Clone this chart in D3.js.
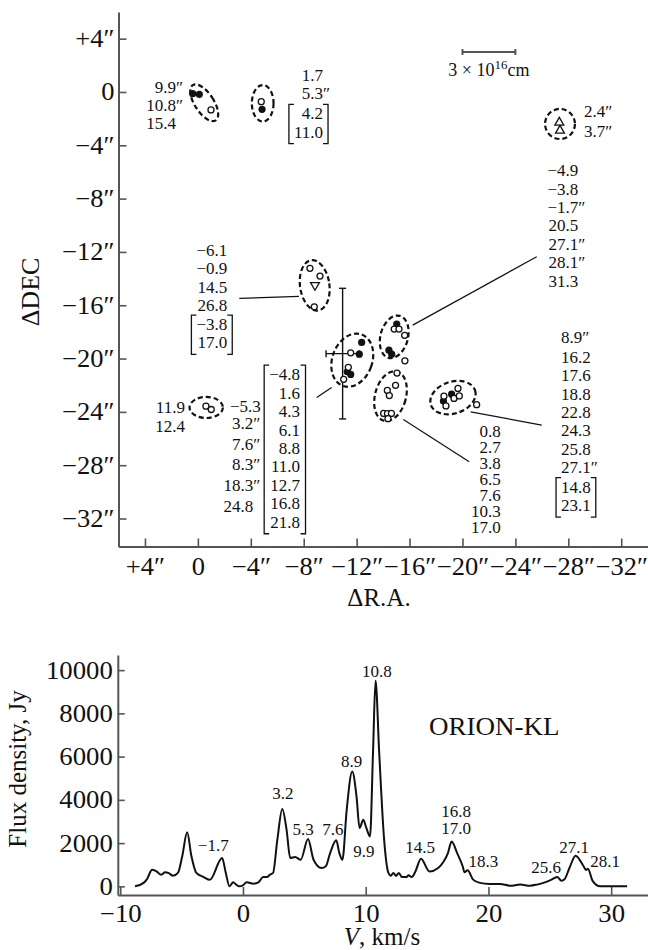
<!DOCTYPE html>
<html>
<head>
<meta charset="utf-8">
<script src="https://cdn.jsdelivr.net/npm/d3@7"></script>
<style>
  body { margin: 0; background: #fff; }
  svg { display: block; }
  text { font-family: "Liberation Serif", "Times New Roman", serif; fill: #111; }
</style>
</head>
<body>
<svg id="chart" width="648" height="950"></svg>
<script>
// ===================== Map of maser spots (offsets in arcsec) =====================
const raTicks  = [4, 0, -4, -8, -12, -16, -20, -24, -28, -32];
const decTicks = [4, 0, -4, -8, -12, -16, -20, -24, -28, -32];

// [ΔR.A., ΔDEC]
const filledSpots = [
  [0.39, -0.13], [-0.11, -0.18],
  [-4.85, -1.30],
  [-12.38, -18.79], [-12.20, -19.67], [-11.29, -20.99], [-11.55, -21.19],
  [-15.03, -17.41], [-14.44, -19.37], [-14.65, -19.67],
  [-18.56, -23.19], [-19.18, -22.67]
];
const openSpots = [
  [-0.99, -1.35],
  [-4.79, -0.73],
  [-8.47, -13.23], [-9.23, -13.81], [-8.80, -16.12],
  [-11.55, -19.57], [-11.37, -20.66], [-11.02, -21.56],
  [-14.84, -17.79], [-15.20, -17.79], [-15.63, -18.26], [-15.65, -20.17],
  [-15.05, -21.09], [-14.94, -22.01], [-14.32, -22.39], [-14.47, -22.78],
  [-14.04, -24.12], [-14.33, -24.13], [-14.63, -24.12], [-14.37, -24.51],
  [-18.60, -22.82], [-18.75, -23.55], [-19.36, -22.99], [-19.76, -22.80],
  [-19.66, -22.24], [-21.07, -23.46],
  [-0.61, -23.57], [-1.01, -23.82]
];
const upTriangles   = [[-27.32, -2.29], [-27.37, -2.89]];
const downTriangles = [[-8.85, -14.49]];

// groups: [ΔR.A., ΔDEC, semi-axis along R.A., semi-axis along DEC, tilt deg]
const groupOutlines = [
  [-0.48, -0.81, 0.72, 1.58, -33],
  [-4.90, -0.85, 0.82, 1.37, 0],
  [-27.37, -2.40, 1.13, 1.13, 0],
  [-8.83, -14.51, 1.11, 1.90, -8],
  [-11.67, -20.12, 1.51, 2.05, 20],
  [-14.84, -18.37, 1.04, 1.63, 15],
  [-14.56, -22.82, 1.17, 1.91, 15],
  [-19.28, -22.93, 1.76, 1.19, -18],
  [-0.63, -23.67, 1.26, 0.79, 0]
];

// position uncertainty cross: [ΔR.A., ΔDEC, ±R.A., ±DEC]
const errorCross = [-10.94, -19.63, 1.25, 4.9];

// linear scale bar: R.A. from, R.A. to, DEC
const scaleBar = [-20, -24, 3.0];

// velocity lists of the spot groups (km/s)
const velA  = ["9.9″", "10.8″", "15.4"];
const velB1 = ["1.7", "5.3″"];
const velB2 = ["4.2", "11.0"];
const velC  = ["2.4″", "3.7″"];
const velD  = ["−4.9", "−3.8", "−1.7″", "20.5", "27.1″", "28.1″", "31.3"];
const velF1 = ["−6.1", "−0.9", "14.5", "26.8"];
const velF2 = ["−3.8", "17.0"];
const velG  = ["11.9", "12.4"];
const velG1 = ["−5.3"];
const velG2 = ["3.2″", "7.6″", "8.3″", "18.3″", "24.8"];
const velH  = ["−4.8", "1.6", "4.3", "6.1", "8.8", "11.0", "12.7", "16.8", "21.8"];
const velI  = ["0.8", "2.7", "3.8", "6.5", "7.6", "10.3", "17.0"];
const velJ1 = ["8.9″"];
const velJ2 = ["16.2", "17.6", "18.8", "22.8", "24.3", "25.8", "27.1″"];
const velJ3 = ["14.8", "23.1"];

// ===================== Spectrum =====================
const specV = [-8.8, -8.1, -7.85, -7.4, -7.05, -6.65, -6.35, -6.05, -5.7, -5.3, -4.95, -4.55, -4.2, -3.8,
  -3.2, -2.7, -1.7, -1.4, -1.1, -0.8, -0.55, -0.3, -0.05, 0.3, 0.85, 1.25, 1.65, 1.95, 2.2, 2.45,
  2.8, 3.2, 3.55, 3.85, 4.25, 4.7, 5.3, 5.75, 6.4, 6.75, 7.1, 7.6, 7.85, 8.1, 8.45, 8.9, 9.25, 9.5,
  9.8, 10.05, 10.35, 10.6, 10.8, 11.1, 11.5, 11.85, 12.05, 12.25, 12.47, 12.7, 12.95, 13.3, 13.5,
  13.75, 14.05, 14.5, 15.2, 15.9, 16.35, 16.7, 17.0, 17.45, 17.9, 18.05, 18.3, 18.75, 19.3, 20.1,
  20.95, 21.75, 22.6, 23.4, 23.95, 24.6, 25.1, 25.6, 25.95, 26.2, 26.6, 27.1, 27.75, 27.95, 28.1,
  28.5, 29.1, 29.9, 31.3];
const specF = [0, 160, 310, 770, 690, 540, 650, 610, 490, 620, 1390, 2500, 1390, 620,
  430, 300, 1310, 620, 0, 185, 80, 0, 30, 185, 125, 185, 430, 430, 540, 620,
  2160, 3580, 2620, 1310, 1360, 1230, 2190, 1230, 850, 930, 1540, 2130, 1540, 1230, 3540, 5310, 4160, 2700,
  3080, 2700, 2310, 6300, 9520, 6160, 2160, 620, 490, 620, 490, 620, 430, 430, 510,
  430, 690, 1280, 690, 850, 1150, 1540, 2080, 1540, 930, 650, 740, 310, 160, 110,
  110, 30, 80, 30, 80, 185, 300, 434, 260, 330, 850, 1420, 930, 760, 810,
  240, 0, 0, 0];
const vTicks    = [-10, 0, 10, 20, 30];
const fluxTicks = [0, 2000, 4000, 6000, 8000, 10000];
const peakLabels = ["−1.7", "3.2", "5.3", "7.6", "8.9", "10.8", "9.9", "14.5", "16.8", "17.0", "18.3", "25.6", "27.1", "28.1"];

// ===================== Layout =====================
const svg = d3.select("#chart");
const INK = "#111", AXIS = "#555";

const xMap = d3.scaleLinear().domain([6, -34]).range([118.5, 647.7]);
const yMap = d3.scaleLinear().domain([6, -34.1]).range([12, 546.5]);

const arcFmt = d => d === 0 ? "0" : (d > 0 ? "+" + d : "−" + Math.abs(d)) + "″";

// stretch text horizontally to the wider face used in the figure
function widen(sel, k) {
  sel.each(function () {
    const L = this.getComputedTextLength();
    d3.select(this).attr("textLength", L * k).attr("lengthAdjust", "spacingAndGlyphs");
  });
}

function styleAxis(g, size, k) {
  g.attr("font-family", null).attr("font-size", null);
  g.select(".domain").attr("stroke", AXIS).attr("stroke-width", 2);
  g.selectAll(".tick line").attr("stroke", AXIS).attr("stroke-width", 1.6);
  const t = g.selectAll(".tick text").attr("fill", INK).style("font-size", size + "px");
  widen(t, k);
}

// axes of the map
svg.append("g").attr("transform", `translate(${xMap(6)},0)`)
  .call(d3.axisLeft(yMap).tickValues(decTicks).tickFormat(arcFmt).tickSize(-8).tickSizeOuter(0).tickPadding(4))
  .call(g => styleAxis(g, 25, 1.06));
svg.append("g").attr("transform", `translate(0,${yMap(-34.1)})`)
  .call(d3.axisBottom(xMap).tickValues(raTicks).tickFormat(arcFmt).tickSize(-8).tickSizeOuter(0).tickPadding(11))
  .call(g => styleAxis(g, 25, 1.06));

svg.append("text").attr("transform", "translate(39,292) rotate(-90)")
  .attr("text-anchor", "middle").style("font-size", "26px").text("ΔDEC");
svg.append("text").attr("x", 379).attr("y", 606)
  .attr("text-anchor", "middle").style("font-size", "25px").text("ΔR.A.");

const map = svg.append("g");
const kx = Math.abs(xMap(1) - xMap(0)), ky = Math.abs(yMap(1) - yMap(0));

// dashed outlines of spot groups
map.selectAll("ellipse.grp").data(groupOutlines).join("ellipse")
  .attr("class", "grp")
  .attr("transform", d => `translate(${xMap(d[0])},${yMap(d[1])}) rotate(${d[4]})`)
  .attr("rx", d => d[2] * kx).attr("ry", d => d[3] * ky)
  .attr("fill", "none").attr("stroke", INK).attr("stroke-width", 2.2)
  .attr("stroke-dasharray", "5,3");

// uncertainty cross
{
  const [ra, de, er, ed] = errorCross;
  const cx = xMap(ra), cy = yMap(de);
  const x1 = xMap(ra + er), x2 = xMap(ra - er), y1 = yMap(de + ed), y2 = yMap(de - ed);
  const segs = [[cx, y1, cx, y2], [x1, cy, x2, cy], [cx - 3.5, y1, cx + 3.5, y1], [cx - 3.5, y2, cx + 3.5, y2],
                [x1, cy - 3.5, x1, cy + 3.5], [x2, cy - 3.5, x2, cy + 3.5]];
  map.selectAll("line.err").data(segs).join("line").attr("class", "err")
    .attr("x1", d => d[0]).attr("y1", d => d[1]).attr("x2", d => d[2]).attr("y2", d => d[3])
    .attr("stroke", INK).attr("stroke-width", 1.4);
}

// spots
map.selectAll("circle.fill").data(filledSpots).join("circle").attr("class", "fill")
  .attr("cx", d => xMap(d[0])).attr("cy", d => yMap(d[1])).attr("r", 3.6).attr("fill", INK);
map.selectAll("circle.open").data(openSpots).join("circle").attr("class", "open")
  .attr("cx", d => xMap(d[0])).attr("cy", d => yMap(d[1])).attr("r", 3)
  .attr("fill", "#fff").attr("stroke", INK).attr("stroke-width", 1.3);
const tri = d3.symbol().type(d3.symbolTriangle).size(34);
map.selectAll("path.up").data(upTriangles).join("path").attr("class", "up")
  .attr("d", tri).attr("transform", d => `translate(${xMap(d[0])},${yMap(d[1])})`)
  .attr("fill", "#fff").attr("stroke", INK).attr("stroke-width", 1.3);
map.selectAll("path.down").data(downTriangles).join("path").attr("class", "down")
  .attr("d", tri).attr("transform", d => `translate(${xMap(d[0])},${yMap(d[1])}) rotate(180)`)
  .attr("fill", "#fff").attr("stroke", INK).attr("stroke-width", 1.3);

// scale bar
{
  const [r1, r2, de] = scaleBar;
  const y = yMap(de), xa = xMap(r1), xb = xMap(r2);
  const g = map.append("g").attr("stroke", AXIS).attr("stroke-width", 2);
  g.append("line").attr("x1", xa).attr("x2", xb).attr("y1", y).attr("y2", y);
  g.append("line").attr("x1", xa).attr("x2", xa).attr("y1", y - 3).attr("y2", y + 3);
  g.append("line").attr("x1", xb).attr("x2", xb).attr("y1", y - 3).attr("y2", y + 3);
  const t = map.append("text").attr("x", (xa + xb) / 2).attr("y", yMap(1.2))
    .attr("text-anchor", "middle").style("font-size", "18px");
  t.append("tspan").text("3 × 10");
  t.append("tspan").attr("dy", -7).style("font-size", "13px").text("16");
  t.append("tspan").attr("dy", 7).text("cm");
}

// velocity label blocks: anchor in arcsec
const blocks = [
  { lines: velA,  ra: 1.66,   dec: -0.06,  anchor: "end",   lh: 18.3 },
  { lines: velB1, ra: -9.46,  dec: 0.82,   anchor: "end",   lh: 17.7 },
  { lines: velB2, ra: -9.46,  dec: -2.05,  anchor: "end",   lh: 18.4, bracket: true },
  { lines: velC,  ra: -29.18, dec: -1.90,  anchor: "start", lh: 19.4 },
  { lines: velD,  ra: -28.75, dec: -6.31,  anchor: "end",   lh: 18.45 },
  { lines: velF1, ra: -2.22,  dec: -12.31, anchor: "end",   lh: 18.33 },
  { lines: velF2, ra: -2.22,  dec: -17.86, anchor: "end",   lh: 18.3, bracket: true },
  { lines: velG,  ra: 0.98,   dec: -24.12, anchor: "end",   lh: 18.4 },
  { lines: velG1, ra: -4.75,  dec: -24.0,  anchor: "end",   lh: 18.4 },
  { lines: velG2, ra: -4.19,  dec: -25.30, anchor: "end",   lh: 20.6 },
  { lines: velH,  ra: -7.72,  dec: -21.62, anchor: "end",   lh: 18.45, bracket: true },
  { lines: velI,  ra: -22.89, dec: -25.92, anchor: "end",   lh: 15.85 },
  { lines: velJ1, ra: -27.45, dec: -18.82, anchor: "start", lh: 18.4 },
  { lines: velJ2, ra: -27.45, dec: -20.32, anchor: "start", lh: 18.4 },
  { lines: velJ3, ra: -27.45, dec: -30.06, anchor: "start", lh: 18.4, bracket: true }
];

blocks.forEach(b => {
  const g = map.append("g").style("font-size", "17px");
  const x0 = xMap(b.ra), y0 = yMap(b.dec);
  const nums = g.append("g");
  b.lines.forEach((t, i) => {
    const y = y0 + i * b.lh;
    if (b.anchor === "end") {
      const prime = t.endsWith("″");
      nums.append("text").attr("x", x0).attr("y", y).attr("text-anchor", "end").text(prime ? t.slice(0, -1) : t);
      if (prime) g.append("text").attr("x", x0).attr("y", y).text("″");
    } else {
      nums.append("text").attr("x", x0).attr("y", y).text(t);
    }
  });
  if (b.bracket) {
    const bb = nums.node().getBBox();
    const l = bb.x - 5, r = bb.x + bb.width + 5;
    const top = y0 - 15, bot = y0 + (b.lines.length - 1) * b.lh + 6;
    g.append("path").attr("d", `M${l + 5},${top}H${l}V${bot}H${l + 5}M${r - 5},${top}H${r}V${bot}H${r - 5}`)
      .attr("fill", "none").attr("stroke", INK).attr("stroke-width", 1.3);
  }
});

// leader lines from label blocks to their groups: [ra1, dec1, ra2, dec2]
const leaders = [
  [-25.61, -12.36, -16.24, -17.49],
  [-3.13, -15.49, -7.64, -15.34],
  [-8.98, -22.92, -10.11, -22.17],
  [-15.53, -24.57, -20.51, -27.75],
  [-20.62, -24.0, -25.99, -24.99]
];
map.selectAll("line.lead").data(leaders).join("line").attr("class", "lead")
  .attr("x1", d => xMap(d[0])).attr("y1", d => yMap(d[1]))
  .attr("x2", d => xMap(d[2])).attr("y2", d => yMap(d[3]))
  .attr("stroke", INK).attr("stroke-width", 1.2);

// ===================== Spectrum panel =====================
const xS = d3.scaleLinear().domain([-10.2, 33]).range([117.8, 648]);
const yS = d3.scaleLinear().domain([-400, 10700]).range([895, 655]);

svg.append("g").attr("transform", `translate(${xS(-10.2)},0)`)
  .call(d3.axisLeft(yS).tickValues(fluxTicks).tickFormat(d3.format("d")).tickSize(-7).tickSizeOuter(0).tickPadding(5))
  .call(g => styleAxis(g, 25, 1.07));
svg.append("g").attr("transform", `translate(0,${yS(-400)})`)
  .call(d3.axisBottom(xS).tickValues(vTicks).tickFormat(d => d < 0 ? "−" + Math.abs(d) : d)
    .tickSize(-8).tickSizeOuter(0).tickPadding(9))
  .call(g => styleAxis(g, 25, 1.07));

svg.append("text").attr("transform", "translate(26,769) rotate(-90)")
  .attr("text-anchor", "middle").style("font-size", "25px").text("Flux density, Jy");
{
  const t = svg.append("text").attr("x", 382).attr("y", 945).attr("text-anchor", "middle").style("font-size", "25px");
  t.append("tspan").style("font-style", "italic").text("V");
  t.append("tspan").text(", km/s");
}
widen(svg.append("text").attr("x", 429).attr("y", 735).style("font-size", "25px").text("ORION-KL"), 1.08);

const spec = specV.map((v, i) => [v, specF[i]]);
svg.append("path").datum(spec)
  .attr("d", d3.line().x(d => xS(d[0])).y(d => yS(d[1])).curve(d3.curveMonotoneX))
  .attr("fill", "none").attr("stroke", INK).attr("stroke-width", 2).attr("stroke-linejoin", "round");

// peak label anchors [V, flux]
const peakLabelAt = [[-2.42, 1649], [3.24, 4026], [4.91, 2375], [7.33, 2375], [8.86, 5534], [10.9, 9696],
  [9.86, 1371], [14.43, 1529], [17.36, 3221], [17.36, 2407], [19.58, 909], [24.69, 604], [26.98, 1529], [29.5, 909]];
svg.append("g").selectAll("text").data(peakLabels).join("text")
  .attr("x", (d, i) => xS(peakLabelAt[i][0])).attr("y", (d, i) => yS(peakLabelAt[i][1]))
  .attr("text-anchor", "middle").style("font-size", "17px").text(d => d);
</script>
</body>
</html>
